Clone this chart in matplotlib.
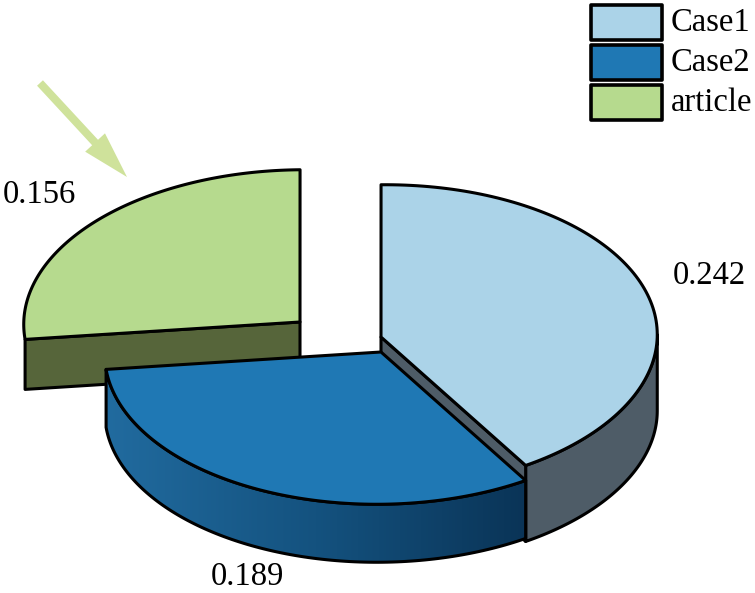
import numpy as np
import matplotlib
matplotlib.use("Agg")
import matplotlib.pyplot as plt
from matplotlib.colors import LinearSegmentedColormap
from matplotlib.patches import FancyArrow, Polygon, Rectangle

# Data
labels = ["Case1", "Case2", "article"]
values = [0.242, 0.189, 0.156]
value_text = ["0.242", "0.189", "0.156"]

# Colours
top_colors = ["#abd3e8", "#1f78b4", "#b6da8e"]
wall_colors = ["#4e5c67", "#155a8a", "#56653a"]
grad_colors = ["#216b9f", "#14527f", "#0a3457"]

plt.rcParams["font.family"] = ["Liberation Serif", "DejaVu Serif"]

# Projection of the pie disc onto the picture (pixels)
U = np.array([276.0, -9.0])
V = np.array([-12.0, -152.0])
START = 87.5

# Apex of each slice, slices are pulled apart, and the wall depth of each
apex = [(381, 337), (381, 352), (300, 322)]
depth = [76, 58, 50]
LW = 2.2
FONT = 23.5


def rim(center, t1, t2, n=120):
    # Points on the edge of the disc between two angles (degrees)
    t = np.radians(np.linspace(t1, t2, n))
    pts = np.outer(np.cos(t), U) + np.outer(np.sin(t), V)
    return pts + np.array(center)


def draw_poly(ax, pts, color, z):
    p = Polygon(pts, closed=True, facecolor=color, edgecolor="black",
                linewidth=LW, joinstyle="round", zorder=z)
    ax.add_patch(p)
    return p


# Slice angles from the values
sweep = np.array(values) / sum(values) * 360
a0 = START
a1 = a0 - sweep[0]
a2 = a1 - sweep[1]

fig = plt.figure(figsize=(7.55, 5.93), dpi=100)
ax = fig.add_axes([0, 0, 1, 1])

# Case1: outer wall, cut wall, top
edge = rim(apex[0], a1, -2.5)
draw_poly(ax, np.vstack([edge, (edge + [0, depth[0]])[::-1]]), wall_colors[0], 1)
end = rim(apex[0], a1, a1, 1)[0]
cut = [apex[0], end, end + [0, depth[0]], np.array(apex[0]) + [0, depth[0]]]
draw_poly(ax, cut, wall_colors[0], 2)
draw_poly(ax, np.vstack([apex[0], rim(apex[0], a1, a0)]), top_colors[0], 3)

# article: front wall, top
left = rim(apex[2], a2 + 360, a2 + 360, 1)[0]
front = [apex[2], left, left + [0, depth[2]], np.array(apex[2]) + [0, depth[2]]]
draw_poly(ax, front, wall_colors[2], 4)
draw_poly(ax, np.vstack([apex[2], rim(apex[2], a0, a2 + 360)]), top_colors[2], 5)

# Case2: wall with the dark gradient, then top
edge = rim(apex[1], a1, a2)
wall = np.vstack([edge, (edge + [0, depth[1]])[::-1]])
wall_patch = draw_poly(ax, wall, "none", 7)
cmap = LinearSegmentedColormap.from_list("wall2", grad_colors)
grad = np.linspace(0, 1, 256).reshape(1, -1)
im = ax.imshow(grad, cmap=cmap, aspect="auto", zorder=6,
               extent=[wall[:, 0].min(), wall[:, 0].max(),
                       wall[:, 1].max(), wall[:, 1].min()])
im.set_clip_path(Polygon(wall, closed=True, transform=ax.transData))
draw_poly(ax, np.vstack([apex[1], rim(apex[1], a2, a1)]), top_colors[1], 8)

# Arrow pointing at the article slice
ax.add_patch(FancyArrow(40, 83, 87, 94, width=8, head_width=27, head_length=47,
                        length_includes_head=True, facecolor="#cfe29b",
                        edgecolor="none", zorder=9))

# Value labels
ax.text(709, 276, value_text[0], fontsize=FONT, ha="center", va="center")
ax.text(247, 577, value_text[1], fontsize=FONT, ha="center", va="center")
ax.text(39, 195, value_text[2], fontsize=FONT, ha="center", va="center")

# Legend boxes
box_top = [5, 45, 85]
for i in range(len(labels)):
    ax.add_patch(Rectangle((591, box_top[i]), 71, 35, facecolor=top_colors[i],
                           edgecolor="black", linewidth=2.6, joinstyle="round"))
    ax.text(671, box_top[i] + 18, labels[i], fontsize=FONT, ha="left", va="center")

ax.set_xlim(0, 755)
ax.set_ylim(593, 0)
ax.axis("off")

fig.savefig("out.png", dpi=100)
